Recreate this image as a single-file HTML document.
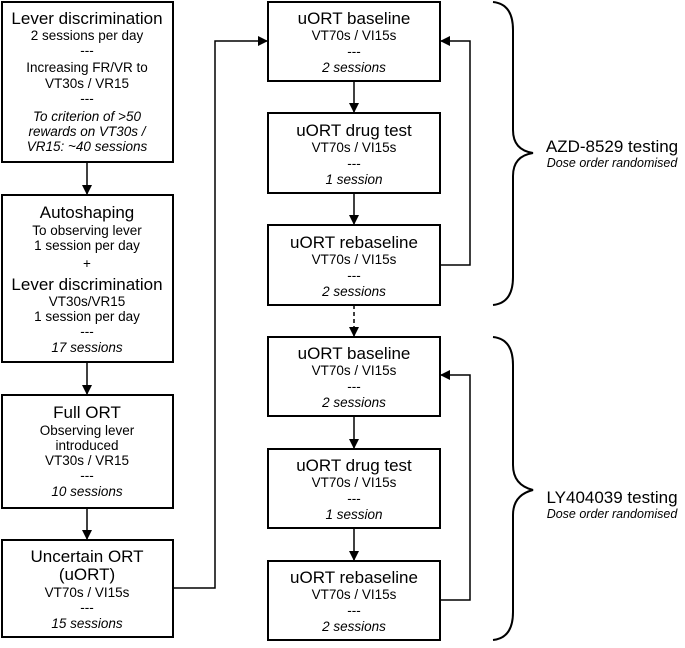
<!DOCTYPE html>
<html><head><meta charset="utf-8"><style>
html,body{margin:0;padding:0;background:#fff;}
svg text{font-family:"Liberation Sans","DejaVu Sans",sans-serif;fill:#000;}
.t{font-size:17px;}
.s{font-size:13.5px;}
.i{font-size:13.5px;font-style:italic;}
.d{font-size:12.5px;font-style:italic;}
</style></head><body>
<svg width="685" height="643" viewBox="0 0 685 643" xmlns="http://www.w3.org/2000/svg">
<defs><marker id="a" markerWidth="10" markerHeight="10" refX="9" refY="5" orient="auto" markerUnits="userSpaceOnUse"><path d="M0,0 L10,5 L0,10 z" fill="#000"/></marker></defs>
<g fill="none" stroke="#000" stroke-width="2">
<rect x="2" y="2" width="171" height="160"/>
<rect x="2" y="195" width="171" height="167"/>
<rect x="2" y="395" width="171" height="113"/>
<rect x="2" y="540" width="171" height="97"/>
<rect x="268" y="2" width="172" height="79"/>
<rect x="268" y="113" width="172" height="80"/>
<rect x="268" y="225" width="172" height="80"/>
<rect x="268" y="337" width="172" height="79"/>
<rect x="268" y="449" width="172" height="79"/>
<rect x="268" y="561" width="172" height="79"/>
</g>
<g stroke="#000" stroke-width="1.5" fill="none">
<line x1="87" y1="162" x2="87" y2="194" marker-end="url(#a)"/>
<line x1="87" y1="362" x2="87" y2="394" marker-end="url(#a)"/>
<line x1="87" y1="508" x2="87" y2="539" marker-end="url(#a)"/>
<polyline points="173,588 215,588 215,41 267,41" marker-end="url(#a)"/>
<line x1="354" y1="81" x2="354" y2="112" marker-end="url(#a)"/>
<line x1="354" y1="193" x2="354" y2="224" marker-end="url(#a)"/>
<line x1="354" y1="305" x2="354" y2="336" stroke-dasharray="4,3" marker-end="url(#a)"/>
<line x1="354" y1="416" x2="354" y2="448" marker-end="url(#a)"/>
<line x1="354" y1="528" x2="354" y2="560" marker-end="url(#a)"/>
<polyline points="440,265 470,265 470,41 441,41" marker-end="url(#a)"/>
<polyline points="440,600 470,600 470,375 441,375" marker-end="url(#a)"/>
<path d="M493,2 Q513,4 513,30 L513,130 Q513,150 533,153 Q513,156 513,176 L513,277 Q513,303 493,305" stroke-width="2"/>
<path d="M493,337 Q513,339 513,365 L513,465 Q513,485 533,490 Q513,495 513,515 L513,612 Q513,638 493,640" stroke-width="2"/>
</g>
<g text-anchor="middle">
<text class="t" x="87" y="24">Lever discrimination</text>
<text class="s" x="87" y="40">2 sessions per day</text>
<text class="s" x="87" y="55">---</text>
<text class="s" x="87" y="72">Increasing FR/VR to</text>
<text class="s" x="87" y="88">VT30s / VR15</text>
<text class="s" x="87" y="103">---</text>
<text class="i" x="87" y="121">To criterion of &gt;50</text>
<text class="i" x="87" y="136">rewards on VT30s /</text>
<text class="i" x="87" y="151">VR15: ~40 sessions</text>

<text class="t" x="87" y="218">Autoshaping</text>
<text class="s" x="87" y="235">To observing lever</text>
<text class="s" x="87" y="250">1 session per day</text>
<text class="s" x="87" y="268">+</text>
<text class="t" x="87" y="290">Lever discrimination</text>
<text class="s" x="87" y="306">VT30s/VR15</text>
<text class="s" x="87" y="321">1 session per day</text>
<text class="s" x="87" y="336">---</text>
<text class="i" x="87" y="352">17 sessions</text>

<text class="t" x="87" y="418">Full ORT</text>
<text class="s" x="87" y="435">Observing lever</text>
<text class="s" x="87" y="450">introduced</text>
<text class="s" x="87" y="465">VT30s / VR15</text>
<text class="s" x="87" y="480">---</text>
<text class="i" x="87" y="496">10 sessions</text>

<text class="t" x="87" y="562">Uncertain ORT</text>
<text class="t" x="87" y="580">(uORT)</text>
<text class="s" x="87" y="597">VT70s / VI15s</text>
<text class="s" x="87" y="612">---</text>
<text class="i" x="87" y="628">15 sessions</text>

<text class="t" x="354" y="24">uORT baseline</text>
<text class="s" x="354" y="40">VT70s / VI15s</text>
<text class="s" x="354" y="56">---</text>
<text class="i" x="354" y="72">2 sessions</text>
<text class="t" x="354" y="136">uORT drug test</text>
<text class="s" x="354" y="152">VT70s / VI15s</text>
<text class="s" x="354" y="168">---</text>
<text class="i" x="354" y="184">1 session</text>
<text class="t" x="354" y="248">uORT rebaseline</text>
<text class="s" x="354" y="264">VT70s / VI15s</text>
<text class="s" x="354" y="280">---</text>
<text class="i" x="354" y="296">2 sessions</text>

<text class="t" x="354" y="359">uORT baseline</text>
<text class="s" x="354" y="375">VT70s / VI15s</text>
<text class="s" x="354" y="391">---</text>
<text class="i" x="354" y="407">2 sessions</text>
<text class="t" x="354" y="471">uORT drug test</text>
<text class="s" x="354" y="487">VT70s / VI15s</text>
<text class="s" x="354" y="503">---</text>
<text class="i" x="354" y="519">1 session</text>
<text class="t" x="354" y="583">uORT rebaseline</text>
<text class="s" x="354" y="599">VT70s / VI15s</text>
<text class="s" x="354" y="615">---</text>
<text class="i" x="354" y="631">2 sessions</text>

<text class="t" x="612" y="152">AZD-8529 testing</text>
<text class="d" x="612" y="167">Dose order randomised</text>
<text class="t" x="612" y="503">LY404039 testing</text>
<text class="d" x="612" y="518">Dose order randomised</text>
</g>
</svg>
</body></html>
